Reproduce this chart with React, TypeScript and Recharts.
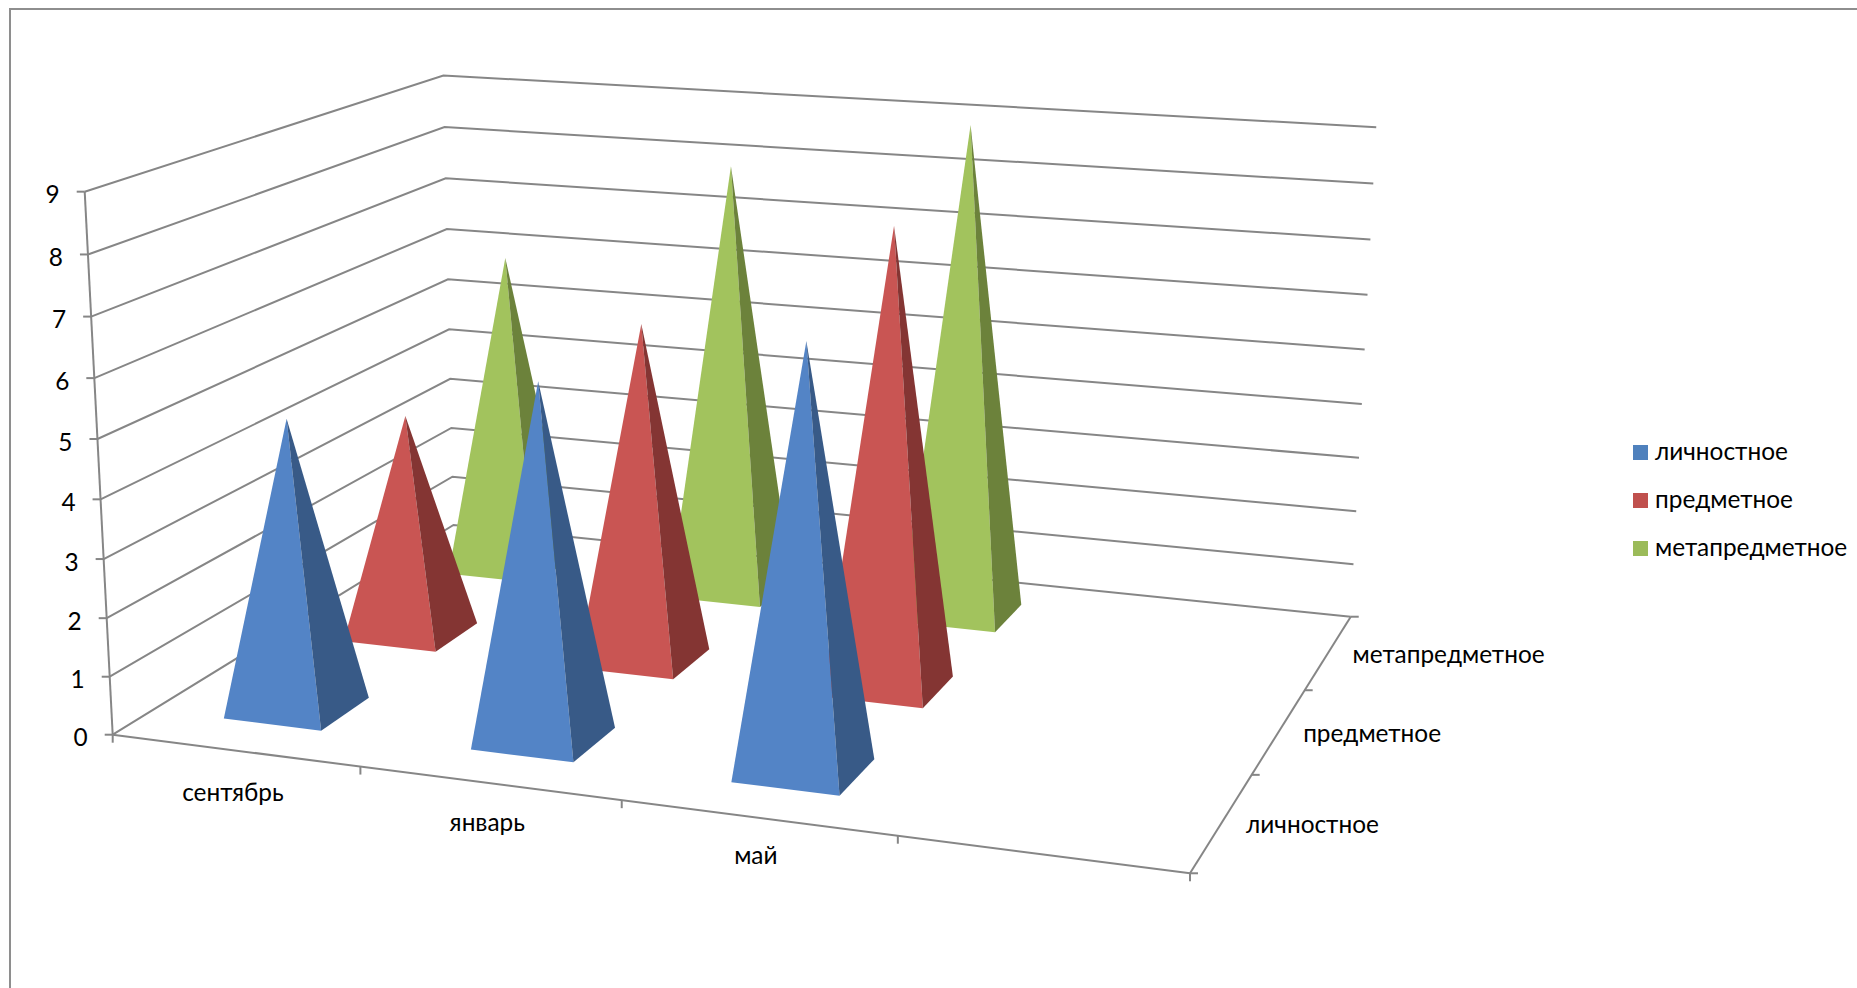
import { ComposedChart, Legend, Line, Scatter, XAxis, YAxis } from "recharts";

const WIDTH = 1857;
const HEIGHT = 988;

const categories = ["сентябрь", "январь", "май"];
const seriesNames = ["личностное", "предметное", "метапредметное"];
const personal = [5, 6, 7];
const subject = [4, 6, 8];
const meta = [6, 8, 9];
const valueTicks = [0, 1, 2, 3, 4, 5, 6, 7, 8, 9];

// the floor has one empty category slot at the right
const CAT_SLOTS = 4;
const DEPTH_SLOTS = 3;
const VALUE_MAX = 9;
const HALF = 0.2; // gap width 150%
const CENTER = 0.495;

const colors = [
  { legend: "#4F81BD", front: "#5384C6", side: "#385A87" },
  { legend: "#C0504D", front: "#C95553", side: "#843533" },
  { legend: "#9BBB59", front: "#A2C35D", side: "#6C823B" },
];

const GRID = "#868686";
const FONT = "Lato, Carlito, 'Open Sans', sans-serif";
const FONT_SIZE = 24.4;

// perspective of the 3D box, homogeneous columns fitted on its corners
function project(c: number, s: number, v: number) {
  const cn = c / CAT_SLOTS;
  const sn = s / DEPTH_SLOTS;
  const vn = v / VALUE_MAX;
  const w = 1 - 0.1043 * cn + 0.2194 * sn - 0.0437 * vn;
  return {
    x: (112.7 + 953.2 * cn + 440.3 * sn - 31.7 * vn) / w,
    y: (734.7 + 47.5 * cn - 94.5 * sn - 551.4 * vn) / w,
  };
}

const pts = (list: { x: number; y: number }[]) => list.map((p) => `${p.x},${p.y}`).join(" ");

function Pyramid(props: any) {
  const { cx, cy, payload } = props;
  const { c, s, color } = payload;
  const fl = project(c + CENTER - HALF, s + 0.5 - HALF, 0);
  const fr = project(c + CENTER + HALF, s + 0.5 - HALF, 0);
  const br = project(c + CENTER + HALF, s + 0.5 + HALF, 0);
  const tip = { x: cx, y: cy };
  return (
    <g>
      <polygon points={pts([fl, fr, tip])} fill={color.front} />
      <polygon points={pts([fr, br, tip])} fill={color.side} />
    </g>
  );
}

function AxisLabel(props: any) {
  const { cx, cy, payload } = props;
  return (
    <text
      x={cx}
      y={cy}
      textAnchor={payload.anchor}
      dominantBaseline="central"
      fontFamily={FONT}
      fontSize={FONT_SIZE}
      fill="#000"
    >
      {payload.label}
    </text>
  );
}

const pyramidData = (values: number[], s: number) =>
  values.map((v, c) => ({ ...project(c + CENTER, s + 0.5, v), c, s, color: colors[s] }));

// a small offset from a projected point, for tick marks and labels
const shift = (p: { x: number; y: number }, dx: number, dy: number) => ({ x: p.x + dx, y: p.y + dy });

const gridLines = valueTicks.map((v) => [project(0, 0, v), project(0, DEPTH_SLOTS, v), project(CAT_SLOTS, DEPTH_SLOTS, v)]);
const slotTicks = [0, 1, 2, 3, 4];
const depthTicks = [0, 1, 2, 3];

const axisLines = [
  [project(0, 0, 0), project(0, 0, VALUE_MAX)],
  [project(0, 0, 0), project(CAT_SLOTS, 0, 0)],
  [project(CAT_SLOTS, 0, 0), project(CAT_SLOTS, DEPTH_SLOTS, 0)],
  ...valueTicks.map((v) => [project(0, 0, v), shift(project(0, 0, v), -8, 0)]),
  ...slotTicks.map((c) => [project(c, 0, 0), shift(project(c, 0, 0), 0, 8)]),
  ...depthTicks.map((s) => [project(CAT_SLOTS, s, 0), shift(project(CAT_SLOTS, s, 0), 8, 0)]),
];

const labels = [
  ...valueTicks.map((v) => ({ ...shift(project(0, 0, v), -25, 2), label: String(v), anchor: "end" })),
  ...categories.map((label, c) => ({ ...shift(project(c + 0.5, 0, 0), -2, 41 - 2.3 * c), label, anchor: "middle" })),
  ...seriesNames.map((label, s) => ({ ...shift(project(CAT_SLOTS, s + 0.5, 0), 24, 1), label, anchor: "start" })),
];

function LegendBox() {
  return (
    <div>
      {seriesNames.map((name, i) => (
        <div key={name} style={{ display: "flex", alignItems: "center", height: 48, fontFamily: FONT, fontSize: FONT_SIZE, color: "#000", lineHeight: "48px" }}>
          <span style={{ width: 15, height: 15, marginRight: 7, background: colors[i].legend }} />
          <span style={{ position: "relative", top: -1.5 }}>{name}</span>
        </div>
      ))}
    </div>
  );
}

export default function App() {
  return (
    <div style={{ position: "absolute", left: 0, top: 0, width: WIDTH, height: HEIGHT, background: "#fff", overflow: "hidden" }}>
      <div style={{ position: "absolute", left: 9, top: 8, right: 0, bottom: 0, borderLeft: "2px solid #8E8E8E", borderTop: "2px solid #8E8E8E" }} />
      <ComposedChart width={WIDTH} height={HEIGHT} margin={{ top: 0, right: 0, bottom: 0, left: 0 }}>
        <XAxis type="number" dataKey="x" domain={[0, WIDTH]} hide allowDataOverflow />
        <YAxis type="number" dataKey="y" domain={[0, HEIGHT]} reversed hide allowDataOverflow />
        {/* vertical + center + middle keeps the legend from shrinking the plot area */}
        <Legend
          layout="vertical"
          align="center"
          verticalAlign="middle"
          content={<LegendBox />}
          wrapperStyle={{ position: "absolute", left: 1633, top: 428, width: 224, bottom: "auto" }}
        />
        {[...gridLines, ...axisLines].map((line, i) => (
          <Line
            key={i}
            data={line}
            dataKey="y"
            stroke={GRID}
            strokeWidth={2}
            dot={false}
            legendType="none"
            isAnimationActive={false}
          />
        ))}
        <Scatter data={pyramidData(meta, 2)} shape={<Pyramid />} isAnimationActive={false} legendType="none" />
        <Scatter data={pyramidData(subject, 1)} shape={<Pyramid />} isAnimationActive={false} legendType="none" />
        <Scatter data={pyramidData(personal, 0)} shape={<Pyramid />} isAnimationActive={false} legendType="none" />
        <Scatter data={labels} shape={<AxisLabel />} isAnimationActive={false} legendType="none" />
      </ComposedChart>
    </div>
  );
}
